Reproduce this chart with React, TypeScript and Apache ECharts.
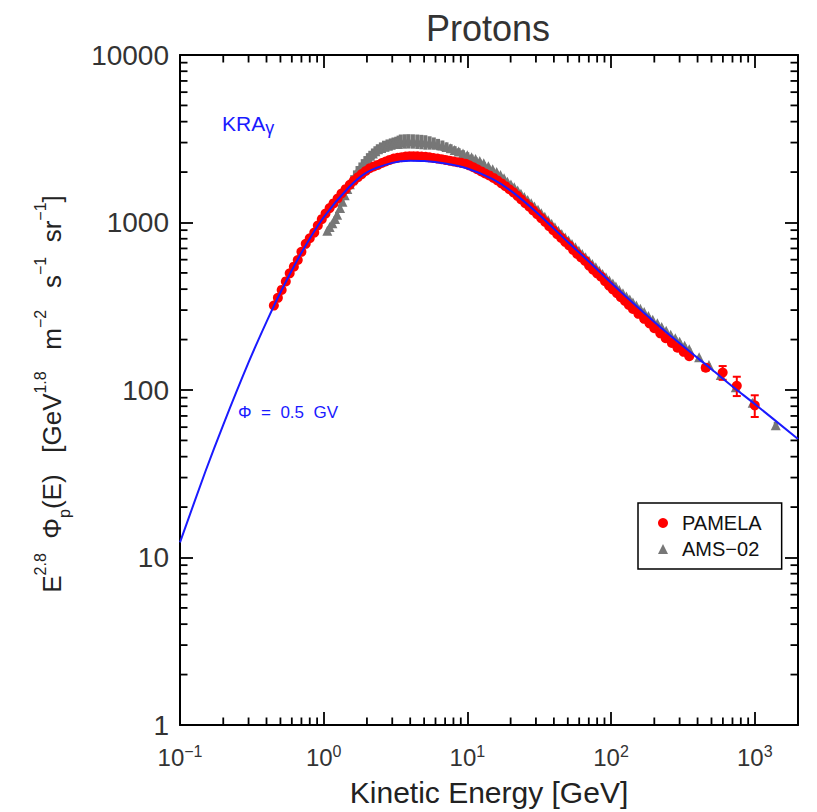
import React, { useEffect, useRef } from 'react';
import * as echarts from 'echarts';

const FONT = '"Liberation Sans", Arial, Helvetica, sans-serif';

// KRA_gamma model curve (Phi = 0.5 GV): energy [GeV], E^2.8 flux
const modelEnergy = [0.1, 0.15, 0.2, 0.3, 0.4, 0.5, 0.7, 1, 1.5, 2, 3, 4, 5, 7, 10, 15, 20, 30, 50, 70, 100, 150, 200, 300, 500, 700, 1000, 2000];
const modelFlux = [12.3, 32.5, 62, 146, 255, 382, 660, 1075, 1625, 1995, 2270, 2340, 2330, 2250, 2100, 1815, 1550, 1160, 765, 585, 437, 317, 255, 190, 133, 105, 82.5, 51];

// PAMELA protons: [energy, E^2.8 flux]
const pamelaPoints = [
  [0.45, 319], [0.48, 355], [0.51, 396], [0.545, 445], [0.58, 497], [0.62, 545], [0.66, 597], [0.7, 668],
  [0.75, 746], [0.8, 805], [0.86, 871], [0.91, 960], [0.97, 1047], [1.03, 1130], [1.1, 1219], [1.17, 1300],
  [1.25, 1390], [1.33, 1490], [1.42, 1581], [1.52, 1680], [1.62, 1778], [1.73, 1862], [1.84, 1945], [1.96, 2030],
  [2.09, 2109], [2.23, 2160], [2.38, 2208], [2.54, 2265], [2.7, 2312], [2.88, 2365], [3.07, 2410], [3.27, 2435],
  [3.49, 2455], [3.72, 2475], [3.96, 2489], [4.22, 2488], [4.5, 2483], [4.8, 2476], [5.12, 2466], [5.45, 2448],
  [5.81, 2427], [6.2, 2408], [6.61, 2388], [7.05, 2364], [7.51, 2339], [8.0, 2315], [8.53, 2291], [9.1, 2270],
  [9.7, 2244], [10.3, 2195], [11.0, 2138], [11.7, 2080], [12.5, 2018], [13.3, 1962], [14.2, 1910], [15.2, 1845],
  [16.2, 1782], [17.3, 1712], [18.4, 1648], [19.6, 1580], [20.9, 1514], [22.3, 1442], [23.7, 1374], [25.3, 1305],
  [27.0, 1242], [28.7, 1180], [30.6, 1122], [32.6, 1062], [34.8, 1007], [37.1, 950], [39.6, 899], [42.2, 852],
  [45.0, 809], [47.9, 767], [51.1, 729], [54.5, 686], [58.1, 649], [61.9, 618], [66.0, 590], [70.3, 553],
  [75.0, 522], [79.9, 497], [85.2, 475], [90.8, 446], [96.8, 420], [103, 398], [110, 378], [117, 358],
  [125, 340], [133, 322], [142, 305], [155, 285], [170, 266], [185, 250], [200, 234], [220, 218],
  [240, 204], [265, 191], [290, 179], [320, 169], [350, 159], [456, 136], [598, 127], [750, 106], [1000, 81],
];
// PAMELA points with visible error bars: [energy, flux, error]
const pamelaErrPoints = [
  [456, 136, 5], [598, 127, 12], [750, 106, 14], [1000, 81, 12],
];

// AMS-02 protons: [energy, E^2.8 flux, error]
const amsPoints = [
  [1.06, 894, 0], [1.1, 940, 12], [1.15, 990, 23], [1.2, 1050, 35], [1.24, 1112, 47], [1.3, 1220, 55],
  [1.35, 1330, 62], [1.4, 1455, 76], [1.46, 1585, 90], [1.52, 1690, 110], [1.58, 1790, 128], [1.65, 1910, 137],
  [1.72, 2027, 146], [1.8, 2130, 153], [1.87, 2230, 160], [1.95, 2325, 167], [2.03, 2420, 174], [2.11, 2500, 180],
  [2.2, 2580, 186], [2.29, 2660, 192], [2.38, 2735, 197], [2.5, 2790, 218], [2.63, 2840, 239], [2.78, 2890, 243],
  [2.93, 2931, 246], [3.06, 2968, 249], [3.2, 3000, 252], [3.32, 3025, 277], [3.44, 3050, 302], [3.67, 3060, 302],
  [3.9, 3065, 303], [4.18, 3060, 302], [4.48, 3050, 302], [4.78, 3037, 300], [5.1, 3020, 299], [5.46, 2997, 275],
  [5.84, 2970, 250], [6.25, 2928, 228], [6.7, 2880, 207], [7.16, 2828, 182], [7.65, 2773, 158], [8.16, 2712, 141],
  [8.7, 2650, 125], [9.32, 2585, 115], [9.99, 2520, 106], [10.7, 2455, 86], [11.4, 2390, 67], [12.2, 2325, 50],
  [13, 2260, 32], [14, 2170, 26], [15, 2080, 20], [16, 2000, 17], [17, 1919, 15], [18, 1836, 13],
  [19, 1754, 12], [20.1, 1688, 11], [21.2, 1622, 10], [22.4, 1554, 9], [23.6, 1486, 8], [24.9, 1422, 8],
  [26.3, 1361, 7], [27.8, 1303, 7], [29.3, 1247, 6], [31, 1190, 6], [32.7, 1135, 5], [34.6, 1081, 5],
  [36.5, 1030, 5], [38.6, 983, 5], [40.7, 938, 4], [43, 894, 4], [45.4, 853, 4], [48, 815, 4],
  [50.6, 780, 4], [53.5, 745, 4], [56.5, 711, 3], [59.7, 679, 3], [63, 649, 3], [66.5, 620, 3],
  [70.2, 592, 3], [74.1, 565, 3], [78.3, 540, 3], [82.7, 515, 3], [87.3, 492, 3], [92.2, 471, 3],
  [97.3, 451, 3], [103, 432, 3], [108, 415, 3], [114, 396, 3], [121, 378, 3], [128, 362, 3],
  [135, 347, 3], [142, 333, 3], [150, 320, 3], [160, 306, 3], [170, 292, 3], [182, 277, 3],
  [195, 263, 3], [210, 250, 3], [225, 238, 3], [242, 226, 3], [260, 214, 3], [280, 204, 3],
  [300, 194, 3], [325, 184, 3], [350, 175, 3], [410, 157, 3], [480, 141, 3], [580, 123, 3],
  [738, 104, 4], [968, 84, 4], [1400, 61.6, 3],
];

// Axes
const xTickExponents = [-1, 0, 1, 2, 3];
const yTickLabels = ['1', '10', '100', '1000', '10000'];
const minorMultipliers = [2, 3, 4, 5, 6, 7, 8, 9];
const xDecades = [0.1, 1, 10, 100];
const yDecades = [1, 10, 100, 1000];

const X_MIN = 0.1;
const X_MAX = 2000;
const Y_MIN = 1;
const Y_MAX = 10000;

const MAJOR_LEN = 13;
const MINOR_LEN = 7.5;
const TICK_W = 1.8;
const BLUE = '#1a1aff';
const GRAY = '#777777';

function supText(e: number): string {
  return e < 0 ? '\u2212' + String(-e) : String(e);
}

export default function App() {
  const ref = useRef<HTMLDivElement>(null);

  useEffect(() => {
    if (!ref.current) return;
    const chart = echarts.init(ref.current, null, { renderer: 'svg' });

    const modelData = modelEnergy.map((e, i) => [e, modelFlux[i]]);
    const pamelaData = pamelaPoints.map((p) => [p[0], p[1]]);
    const pamelaErrData = pamelaErrPoints.map((p) => [p[0], p[1] - p[2], p[1] + p[2]]);
    const amsData = amsPoints.map((p) => [p[0], p[1]]);
    const amsErrData = amsPoints.map((p) => [p[0], p[1] - p[2], p[1] + p[2]]);

    const xMinorData: number[][] = [];
    xDecades.forEach((d) => minorMultipliers.forEach((m) => xMinorData.push([d * m, Y_MIN])));
    const yMinorData: number[][] = [];
    yDecades.forEach((d) => minorMultipliers.forEach((m) => yMinorData.push([X_MIN, d * m])));

    const errRenderer = (color: string, width: number, cap: number) => (params: any, api: any) => {
      const x = api.value(0);
      const p1 = api.coord([x, api.value(1)]);
      const p2 = api.coord([x, api.value(2)]);
      const style = { stroke: color, lineWidth: width };
      const children: any[] = [
        { type: 'line', shape: { x1: p1[0], y1: p1[1], x2: p2[0], y2: p2[1] }, style },
      ];
      if (cap > 0) {
        children.push({ type: 'line', shape: { x1: p1[0] - cap, y1: p1[1], x2: p1[0] + cap, y2: p1[1] }, style });
        children.push({ type: 'line', shape: { x1: p2[0] - cap, y1: p2[1], x2: p2[0] + cap, y2: p2[1] }, style });
      }
      return { type: 'group', children };
    };

    const xLabelFormatter = (v: number) => {
      const e = Math.log10(v);
      const r = Math.round(e);
      if (Math.abs(e - r) > 1e-6 || xTickExponents.indexOf(r) < 0) return '';
      return '{b|10}{s|' + supText(r) + '}';
    };
    const yLabelFormatter = (v: number) => {
      const e = Math.log10(v);
      const r = Math.round(e);
      if (Math.abs(e - r) > 1e-6 || !yTickLabels[r]) return '';
      return yTickLabels[r];
    };

    const axisLine = { show: true, onZero: false, lineStyle: { color: '#000', width: 2 } };
    const axisTick = { show: true, inside: true, length: MAJOR_LEN, lineStyle: { color: '#000', width: TICK_W } };

    const option: any = {
      animation: false,
      backgroundColor: '#fff',
      grid: { left: 180, top: 55, right: 19, bottom: 82, containLabel: false },
      legend: {
        orient: 'vertical',
        left: 638,
        top: 503,
        padding: [10, 20, 10, 20],
        itemGap: 6,
        itemWidth: 10,
        itemHeight: 10,
        borderColor: '#000',
        borderWidth: 1.5,
        borderRadius: 0,
        backgroundColor: '#fff',
        textStyle: { fontSize: 20, fontFamily: FONT, color: '#111', padding: [0, 0, 0, 9] },
        data: [
          { name: 'PAMELA', icon: 'circle' },
          { name: 'AMS\u221202', icon: 'triangle' },
        ],
      },
      xAxis: [
        {
          type: 'log',
          logBase: 10,
          min: X_MIN,
          max: X_MAX,
          position: 'bottom',
          axisLine,
          axisTick,
          splitLine: { show: false },
          minorTick: { show: false },
          axisLabel: {
            margin: 18,
            formatter: xLabelFormatter,
            rich: {
              b: { fontSize: 24, lineHeight: 28, fontFamily: FONT, color: '#333' },
              s: { fontSize: 16, lineHeight: 16, verticalAlign: 'top', fontFamily: FONT, color: '#333' },
            },
          },
          name: 'Kinetic Energy [GeV]',
          nameLocation: 'middle',
          nameGap: 52,
          nameTextStyle: { fontSize: 30, fontFamily: FONT, color: '#222' },
        },
        {
          type: 'log',
          logBase: 10,
          min: X_MIN,
          max: X_MAX,
          position: 'top',
          axisLine,
          axisTick,
          axisLabel: { show: false },
          splitLine: { show: false },
        },
      ],
      yAxis: [
        {
          type: 'log',
          logBase: 10,
          min: Y_MIN,
          max: Y_MAX,
          position: 'left',
          axisLine,
          axisTick,
          splitLine: { show: false },
          minorTick: { show: false },
          axisLabel: {
            margin: 11,
            formatter: yLabelFormatter,
            fontSize: 28,
            fontFamily: FONT,
            color: '#333',
          },
        },
        {
          type: 'log',
          logBase: 10,
          min: Y_MIN,
          max: Y_MAX,
          position: 'right',
          axisLine,
          axisTick,
          axisLabel: { show: false },
          splitLine: { show: false },
        },
      ],
      series: [
        {
          type: 'custom',
          name: 'ams-err',
          silent: true,
          z: 1,
          encode: { x: 0, y: [1, 2] },
          data: amsErrData,
          renderItem: errRenderer(GRAY, 4, 0),
        },
        {
          type: 'scatter',
          name: 'AMS\u221202',
          symbol: 'triangle',
          symbolSize: 10,
          itemStyle: { color: GRAY, opacity: 1 },
          z: 2,
          data: amsData,
        },
        {
          type: 'scatter',
          name: 'PAMELA',
          symbol: 'circle',
          symbolSize: 10,
          itemStyle: { color: '#ff0000', opacity: 1 },
          z: 3,
          data: pamelaData,
        },
        {
          type: 'custom',
          name: 'pamela-err',
          silent: true,
          z: 4,
          encode: { x: 0, y: [1, 2] },
          data: pamelaErrData,
          renderItem: errRenderer('#ff0000', 2, 4),
        },
        {
          type: 'line',
          name: 'KRA',
          showSymbol: false,
          symbol: 'none',
          smooth: 0.3,
          z: 5,
          lineStyle: { color: BLUE, width: 2 },
          data: modelData,
        },
        {
          type: 'custom',
          name: 'x-minor',
          silent: true,
          z: 6,
          encode: { x: 0, y: 1 },
          data: xMinorData,
          renderItem: (params: any, api: any) => {
            const cs = params.coordSys;
            const px = api.coord([api.value(0), Y_MIN])[0];
            const bottom = cs.y + cs.height;
            const top = cs.y;
            const style = { stroke: '#000', lineWidth: TICK_W };
            return {
              type: 'group',
              children: [
                { type: 'line', shape: { x1: px, y1: bottom, x2: px, y2: bottom - MINOR_LEN }, style },
                { type: 'line', shape: { x1: px, y1: top, x2: px, y2: top + MINOR_LEN }, style },
              ],
            };
          },
        },
        {
          type: 'custom',
          name: 'y-minor',
          silent: true,
          z: 6,
          encode: { x: 0, y: 1 },
          data: yMinorData,
          renderItem: (params: any, api: any) => {
            const cs = params.coordSys;
            const py = api.coord([X_MIN, api.value(1)])[1];
            const left = cs.x;
            const right = cs.x + cs.width;
            const style = { stroke: '#000', lineWidth: TICK_W };
            return {
              type: 'group',
              children: [
                { type: 'line', shape: { x1: left, y1: py, x2: left + MINOR_LEN, y2: py }, style },
                { type: 'line', shape: { x1: right, y1: py, x2: right - MINOR_LEN, y2: py }, style },
              ],
            };
          },
        },
      ],
      graphic: [
        {
          type: 'text',
          x: 488,
          y: 28,
          z: 10,
          style: {
            text: 'Protons',
            fontSize: 36,
            fontFamily: FONT,
            fill: '#333',
            align: 'center',
            verticalAlign: 'middle',
            textAlign: 'center',
            textVerticalAlign: 'middle',
          },
        },
        {
          type: 'text',
          x: 52,
          y: 394,
          rotation: Math.PI / 2,
          z: 10,
          style: {
            text: '{m|E}{sup|2.8}{m|  \u03A6}{sub|p}{m|(E)   [GeV}{sup|1.8}{m|   m}{sup|\u22122}{m|   s}{sup|\u22121}{m|  sr}{sup|\u22121}{m|]}',
            fill: '#222',
            align: 'center',
            verticalAlign: 'middle',
            textAlign: 'center',
            textVerticalAlign: 'middle',
            rich: {
              m: { fontSize: 26, lineHeight: 40, fontFamily: FONT, fill: '#222', color: '#222' },
              sup: { fontSize: 16, lineHeight: 19, verticalAlign: 'top', fontFamily: FONT, fill: '#222', color: '#222' },
              sub: { fontSize: 16, lineHeight: 19, verticalAlign: 'bottom', fontFamily: FONT, fill: '#222', color: '#222' },
            },
          },
        },
        {
          type: 'text',
          x: 222,
          y: 123,
          z: 10,
          style: {
            text: '{m|KRA}{s|\u03B3}',
            fill: BLUE,
            align: 'left',
            verticalAlign: 'middle',
            textAlign: 'left',
            textVerticalAlign: 'middle',
            rich: {
              m: { fontSize: 21, lineHeight: 28, fontFamily: FONT, fill: BLUE, color: BLUE },
              s: { fontSize: 18, lineHeight: 18, verticalAlign: 'bottom', fontFamily: FONT, fill: BLUE, color: BLUE },
            },
          },
        },
        {
          type: 'text',
          x: 238,
          y: 412,
          z: 10,
          style: {
            text: '\u03A6  =  0.5  GV',
            fontSize: 17,
            fontFamily: FONT,
            fill: BLUE,
            align: 'left',
            verticalAlign: 'middle',
            textAlign: 'left',
            textVerticalAlign: 'middle',
          },
        },
      ],
    };

    chart.setOption(option);
    return () => chart.dispose();
  }, []);

  return (
    <div
      ref={ref}
      style={{ position: 'absolute', left: 0, top: 0, width: 817, height: 812, background: '#fff' }}
    />
  );
}
